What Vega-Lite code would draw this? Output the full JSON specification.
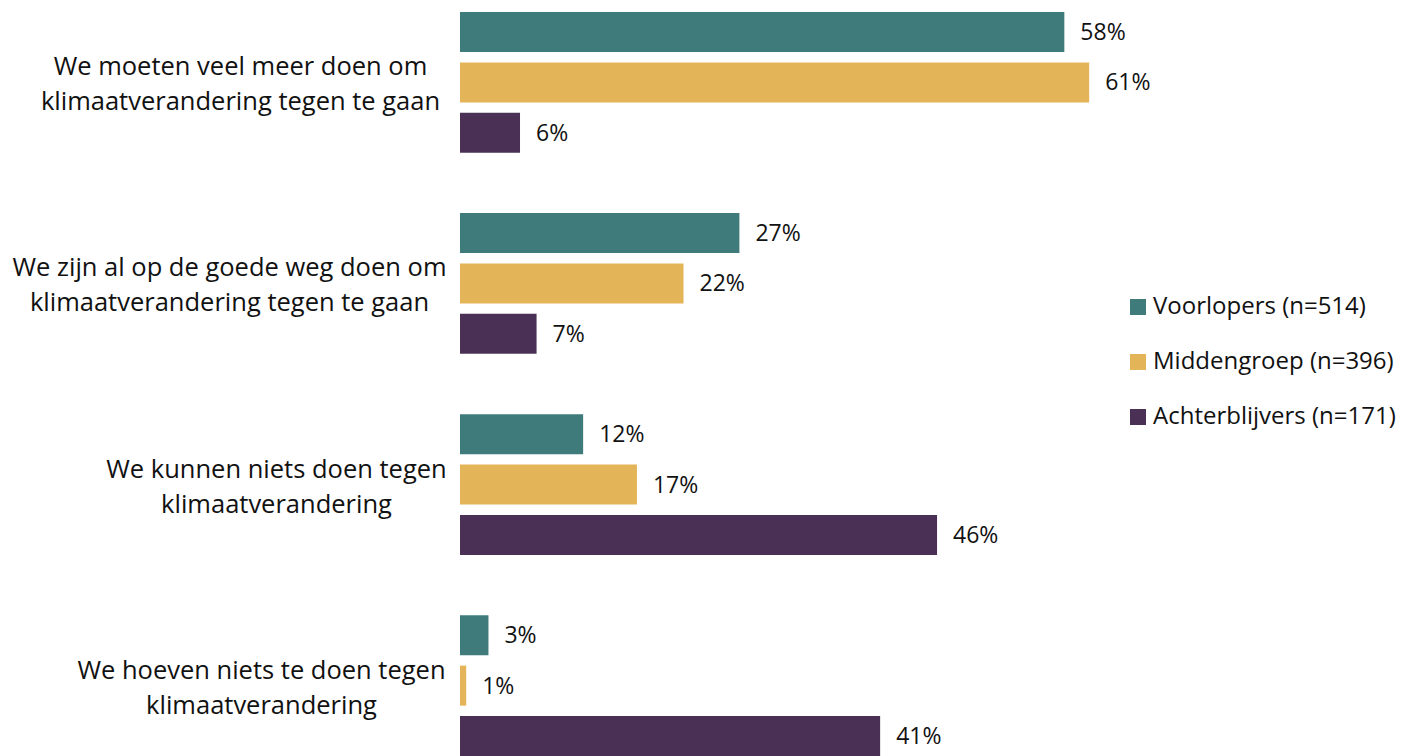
{
  "$schema": "https://vega.github.io/schema/vega-lite/v6.json",
  "width": 951,
  "height": 744,
  "autosize": {"type": "none"},
  "padding": {"left": 460, "top": 12, "right": 0, "bottom": 0},
  "background": "#ffffff",
  "config": {"view": {"stroke": null}, "font": "Open Sans"},
  "data": {
    "values": [
      {"statement": "We moeten veel meer doen om|klimaatverandering tegen te gaan", "group": "Voorlopers (n=514)", "value": 0.584},
      {"statement": "We moeten veel meer doen om|klimaatverandering tegen te gaan", "group": "Middengroep (n=396)", "value": 0.608},
      {"statement": "We moeten veel meer doen om|klimaatverandering tegen te gaan", "group": "Achterblijvers (n=171)", "value": 0.058},
      {"statement": "We zijn al op de goede weg doen om|klimaatverandering tegen te gaan", "group": "Voorlopers (n=514)", "value": 0.27},
      {"statement": "We zijn al op de goede weg doen om|klimaatverandering tegen te gaan", "group": "Middengroep (n=396)", "value": 0.216},
      {"statement": "We zijn al op de goede weg doen om|klimaatverandering tegen te gaan", "group": "Achterblijvers (n=171)", "value": 0.074},
      {"statement": "We kunnen niets doen tegen|klimaatverandering", "group": "Voorlopers (n=514)", "value": 0.119},
      {"statement": "We kunnen niets doen tegen|klimaatverandering", "group": "Middengroep (n=396)", "value": 0.171},
      {"statement": "We kunnen niets doen tegen|klimaatverandering", "group": "Achterblijvers (n=171)", "value": 0.461},
      {"statement": "We hoeven niets te doen tegen|klimaatverandering", "group": "Voorlopers (n=514)", "value": 0.0275},
      {"statement": "We hoeven niets te doen tegen|klimaatverandering", "group": "Middengroep (n=396)", "value": 0.006},
      {"statement": "We hoeven niets te doen tegen|klimaatverandering", "group": "Achterblijvers (n=171)", "value": 0.406}
    ]
  },
  "encoding": {
    "y": {
      "field": "statement",
      "type": "nominal",
      "sort": null,
      "title": null,
      "scale": {"paddingInner": 0.3, "paddingOuter": 0},
      "axis": {
        "domain": false,
        "ticks": false,
        "tickSize": 0,
        "labelPadding": 0,
        "labelAlign": "center",
        "labelBaseline": "middle",
        "labelOffset": -15,
        "labelFontSize": 25.5,
        "labelLineHeight": 35,
        "labelColor": "#111111",
        "labelLimit": 0,
        "labelExpr": "split(datum.value, '|')",
        "encoding": {
          "labels": {
            "dx": {"value": {"signal": "indexof(datum.value, 'veel meer') >= 0 ? -220 : indexof(datum.value, 'goede weg') >= 0 ? -231 : indexof(datum.value, 'kunnen') >= 0 ? -184 : -199"}}
          }
        }
      }
    },
    "yOffset": {
      "field": "group",
      "type": "nominal",
      "sort": ["Voorlopers (n=514)", "Middengroep (n=396)", "Achterblijvers (n=171)"],
      "scale": {"paddingInner": 0.206, "paddingOuter": 0}
    },
    "x": {
      "field": "value",
      "type": "quantitative",
      "scale": {"domain": [0, 0.919], "nice": false, "zero": true},
      "axis": null
    }
  },
  "layer": [
    {
      "mark": {"type": "bar"},
      "encoding": {
        "color": {
          "field": "group",
          "type": "nominal",
          "scale": {
            "domain": ["Voorlopers (n=514)", "Middengroep (n=396)", "Achterblijvers (n=171)"],
            "range": ["#3F7B7B", "#E4B458", "#4A3055"]
          },
          "legend": {
            "title": null,
            "orient": "none",
            "legendX": 666,
            "legendY": 283,
            "symbolType": "square",
            "symbolSize": 256,
            "symbolStrokeWidth": 0,
            "labelFontSize": 24,
            "labelColor": "#111111",
            "labelOffset": 3,
            "rowPadding": 31,
            "labelLimit": 0
          }
        }
      }
    },
    {
      "mark": {"type": "text", "align": "left", "baseline": "middle", "dx": 16, "dy": 1, "fontSize": 23, "color": "#111111"},
      "encoding": {"text": {"field": "value", "type": "quantitative", "format": ".0%"}}
    }
  ]
}
